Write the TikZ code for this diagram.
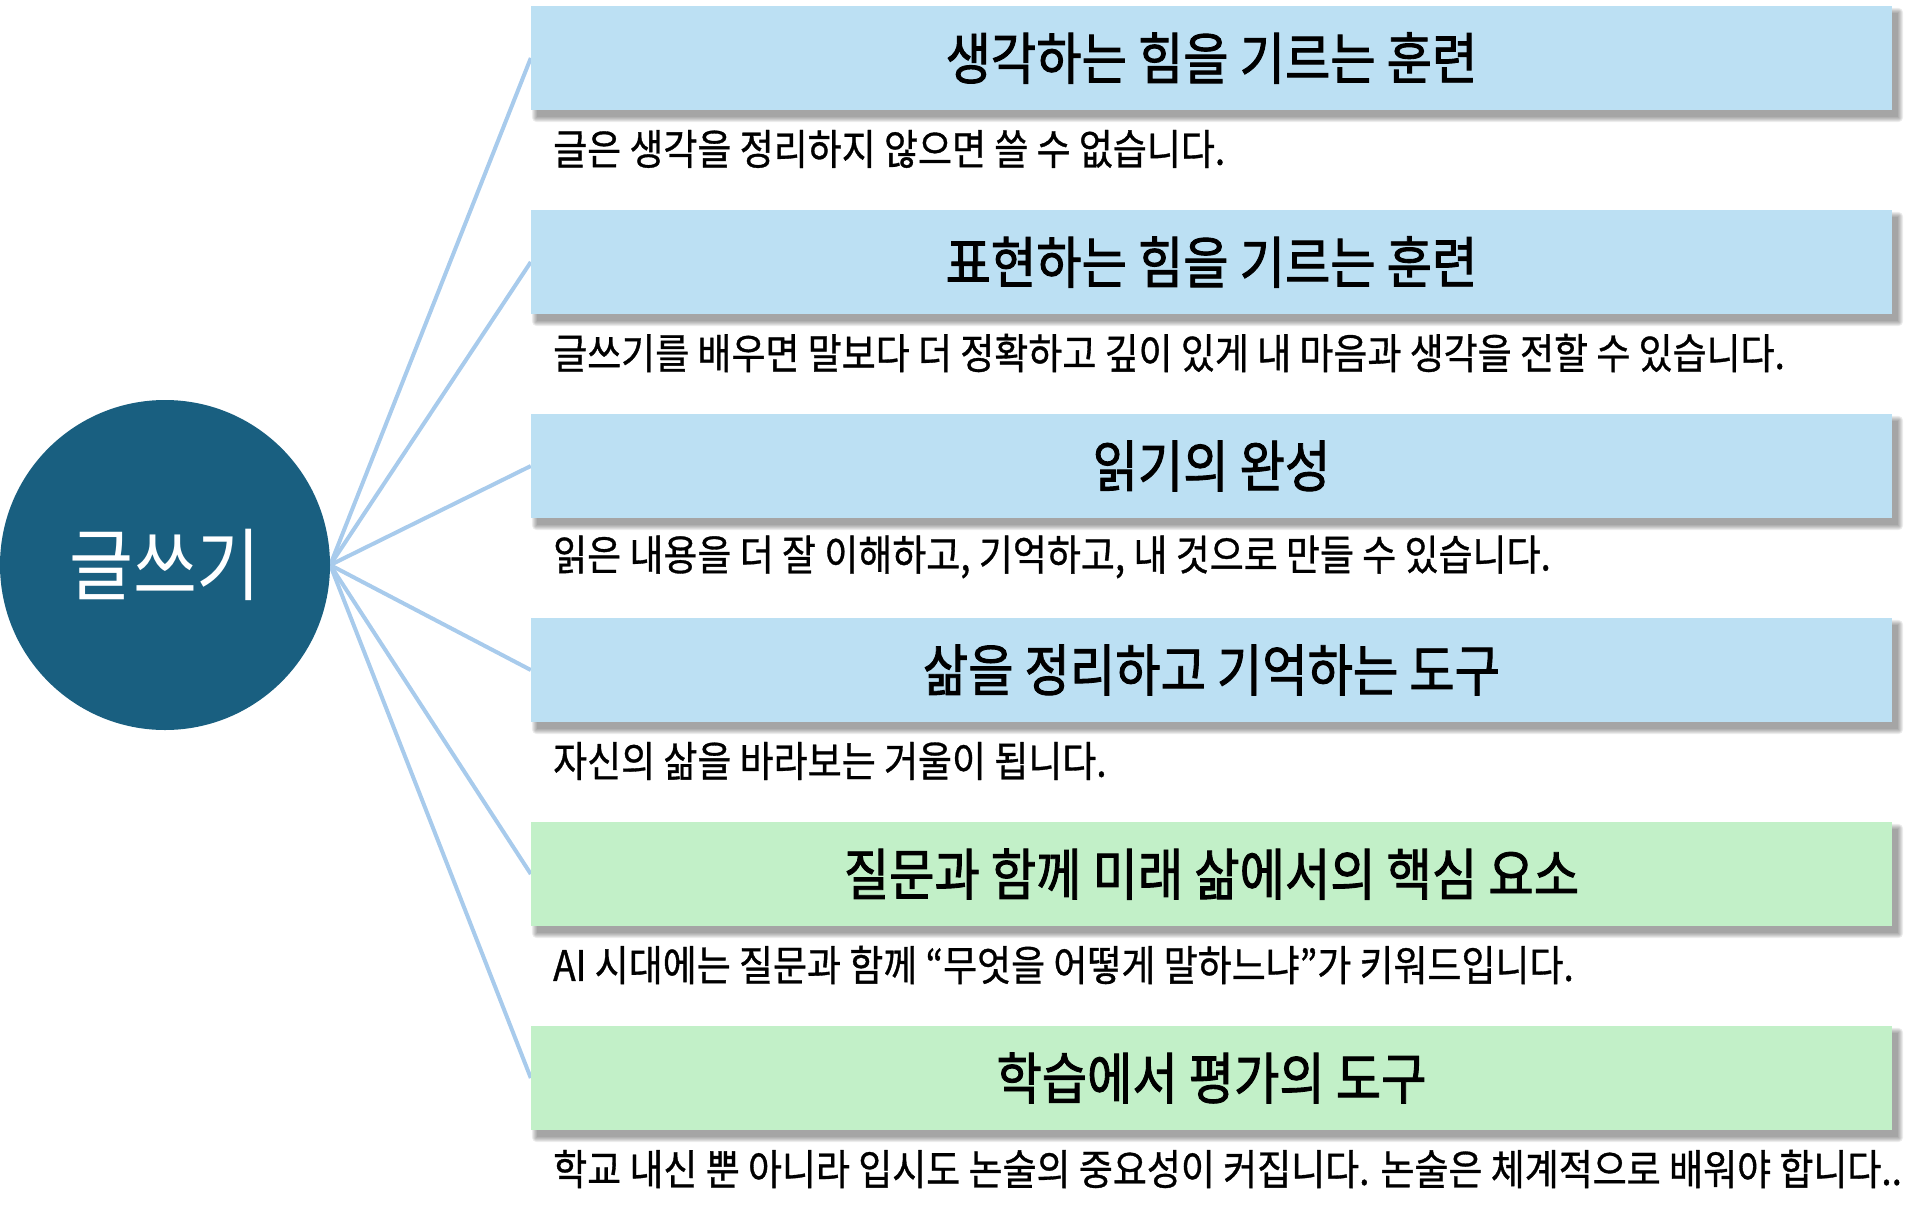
\documentclass[tikz,border=0pt]{standalone}
\usepackage{fontspec}
\newfontfamily\krfont[FakeStretch=0.88]{Noto Sans CJK KR}
\newfontfamily\krmed[FakeStretch=0.88,FakeBold=1.6]{Noto Sans CJK KR}
\newfontfamily\krdesc[FakeStretch=0.88,FakeBold=0.8]{Noto Sans CJK KR}
\definecolor{hubblue}{HTML}{195F80}
\definecolor{cardblue}{HTML}{BCE0F3}
\definecolor{cardgreen}{HTML}{C2F0C8}
\definecolor{linkblue}{HTML}{A8CBEC}
\pgfdeclarelayer{bg}
\pgfsetlayers{bg,main}
\tikzset{
  hub/.style={circle, fill=hubblue, minimum size=330pt, inner sep=0pt, text=white,
    font=\krfont\fontsize{79}{88}\selectfont},
  card/.style={rectangle, minimum width=1361pt, minimum height=104pt, inner sep=0pt,
    font=\krmed\fontsize{56}{64}\selectfont},
  bluecard/.style={card, fill=cardblue},
  greencard/.style={card, fill=cardgreen},
  desc/.style={anchor=west, inner sep=0pt, font=\krdesc\fontsize{42}{48}\selectfont},
  link/.style={draw=linkblue, line width=4pt},
  shadowlayer/.style={fill=black, opacity=0.07}
}
\begin{document}
\begin{tikzpicture}[x=1pt,y=-1pt]
\useasboundingbox (0,0) rectangle (1920,1219);
\node[hub] (hub) at (165,565) {글쓰기};

\node[bluecard]  (b1) at (1211.5,58)  {생각하는 힘을 기르는 훈련};
\node[bluecard]  (b2) at (1211.5,262) {표현하는 힘을 기르는 훈련};
\node[bluecard]  (b3) at (1211.5,466) {읽기의 완성};
\node[bluecard]  (b4) at (1211.5,670) {삶을 정리하고 기억하는 도구};
\node[greencard] (b5) at (1211.5,874) {질문과 함께 미래 삶에서의 핵심 요소};
\node[greencard] (b6) at (1211.5,1078) {학습에서 평가의 도구};

\node[desc] (d1) at (553,149)  {글은 생각을 정리하지 않으면 쓸 수 없습니다.};
\node[desc] (d2) at (553,353)  {글쓰기를 배우면 말보다 더 정확하고 깊이 있게 내 마음과 생각을 전할 수 있습니다.};
\node[desc] (d3) at (553,557)  {읽은 내용을 더 잘 이해하고, 기억하고, 내 것으로 만들 수 있습니다.};
\node[desc] (d4) at (553,761)  {자신의 삶을 바라보는 거울이 됩니다.};
\node[desc] (d5) at (553,965)  {AI 시대에는 질문과 함께 “무엇을 어떻게 말하느냐”가 키워드입니다.};
\node[desc] (d6) at (553,1169) {학교 내신 뿐 아니라 입시도 논술의 중요성이 커집니다. 논술은 체계적으로 배워야 합니다..};

\begin{pgfonlayer}{bg}
\foreach \b in {b1,b2,b3,b4,b5,b6}{
  \foreach \i in {0,...,5}{
    \fill[shadowlayer, rounded corners=\i pt]
      ([shift={(6-\i,7-\i)}]\b.north west) rectangle ([shift={(6+\i,7+\i)}]\b.south east);
  }
}
\foreach \b in {b1,b2,b3,b4,b5,b6}{
  \draw[link] (hub.east) -- (\b.west);
}
\end{pgfonlayer}
\end{tikzpicture}
\end{document}
